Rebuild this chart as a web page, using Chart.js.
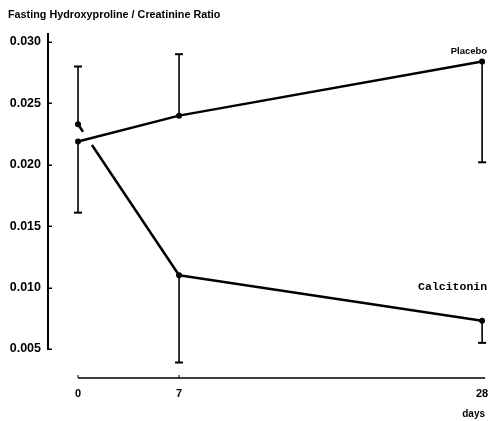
<!DOCTYPE html>
<html>
<head>
<meta charset="utf-8">
<script src="https://cdn.jsdelivr.net/npm/chart.js@4/dist/chart.umd.min.js"></script>
<style>
  html, body { margin: 0; padding: 0; background: #fff; }
  canvas { display: block; }
</style>
</head>
<body>
<canvas id="c" width="489" height="421"></canvas>
<script>
// ---- data ----
const days = [0, 7, 28];
const yTicks = [0.005, 0.010, 0.015, 0.020, 0.025, 0.030];
const placebo = [0.0219, 0.0240, 0.0284];
const calcitonin = [0.0233, 0.0110, 0.0073];
// error bar end values (one-sided bars as drawn)
const placeboErrEnd = [0.0161, 0.0290, 0.0202];
const calcitoninErrEnd = [0.0280, 0.0039, 0.0055];
const titleText = 'Fasting Hydroxyproline / Creatinine Ratio';
const xTitle = 'days';
const seriesNames = ['Placebo', 'Calcitonin'];

const SANS = '"Liberation Sans", Arial, Helvetica, sans-serif';
const MONO = '"Liberation Mono", "Courier New", monospace';

const toXY = (vals) => days.map((d, i) => ({ x: d, y: vals[i] }));

const decor = {
  id: 'decor',
  beforeDatasetsDraw(chart) {
    const { ctx, chartArea } = chart;
    const xs = chart.scales.x, ys = chart.scales.y;
    ctx.save();
    ctx.strokeStyle = '#000';
    ctx.lineCap = 'butt';
    // y axis line
    const yBot = ys.getPixelForValue(yTicks[0]);
    ctx.lineWidth = 2;
    ctx.beginPath();
    ctx.moveTo(chartArea.left + 1, chartArea.top);
    ctx.lineTo(chartArea.left + 1, yBot + 1);
    ctx.stroke();
    // y tick marks (inward)
    ctx.lineWidth = 1.5;
    yTicks.forEach(t => {
      const py = Math.round(ys.getPixelForValue(t)) + 0.25;
      ctx.beginPath();
      ctx.moveTo(chartArea.left + 1, py);
      ctx.lineTo(chartArea.left + 5, py);
      ctx.stroke();
    });
    // x axis line
    const x0 = xs.getPixelForValue(days[0]);
    const x1 = xs.getPixelForValue(days[days.length - 1]);
    ctx.lineWidth = 1.5;
    ctx.beginPath();
    ctx.moveTo(x0, chartArea.bottom);
    ctx.lineTo(x1 + 3, chartArea.bottom);
    ctx.stroke();
    ctx.lineWidth = 1;
    days.slice(0, 2).forEach(d => {
      const px = xs.getPixelForValue(d);
      ctx.beginPath();
      ctx.moveTo(px, chartArea.bottom);
      ctx.lineTo(px, chartArea.bottom - 3);
      ctx.stroke();
    });
    // error bars
    const drawErr = (vals, ends) => {
      days.forEach((d, i) => {
        if (ends[i] == null) return;
        const px = xs.getPixelForValue(d);
        const p0 = ys.getPixelForValue(vals[i]);
        const p1 = ys.getPixelForValue(ends[i]);
        ctx.lineWidth = 1.6;
        ctx.beginPath();
        ctx.moveTo(px, p0);
        ctx.lineTo(px, p1);
        ctx.stroke();
        ctx.lineWidth = 2;
        ctx.beginPath();
        ctx.moveTo(px - 4, p1);
        ctx.lineTo(px + 4, p1);
        ctx.stroke();
      });
    };
    drawErr(placebo, placeboErrEnd);
    drawErr(calcitonin, calcitoninErrEnd);
    ctx.restore();
  },
  afterDatasetsDraw(chart) {
    const { ctx } = chart;
    const xs = chart.scales.x, ys = chart.scales.y;
    const last = days.length - 1;
    ctx.save();
    ctx.fillStyle = '#000';
    ctx.textAlign = 'right';
    ctx.textBaseline = 'middle';
    ctx.font = 'bold 9.5px ' + SANS;
    ctx.fillText(seriesNames[0], xs.getPixelForValue(days[last]) + 5, ys.getPixelForValue(placebo[last]) - 10);
    ctx.font = 'bold 11.5px ' + MONO;
    ctx.fillText(seriesNames[1], xs.getPixelForValue(days[last]) + 5, ys.getPixelForValue(calcitonin[last]) - 34);
    ctx.restore();
  }
};

new Chart(document.getElementById('c'), {
  type: 'line',
  data: {
    datasets: [
      {
        label: seriesNames[1],
        data: toXY(calcitonin),
        borderColor: '#000',
        backgroundColor: '#000',
        borderWidth: 2.5,
        pointRadius: 3,
        pointBorderWidth: 0,
        tension: 0,
        segment: {
          borderDash: (c) => c.p0DataIndex === 0 ? [9, 16, 400] : undefined
        }
      },
      {
        label: seriesNames[0],
        data: toXY(placebo),
        borderColor: '#000',
        backgroundColor: '#000',
        borderWidth: 2.5,
        pointRadius: 3,
        pointBorderWidth: 0,
        tension: 0
      }
    ]
  },
  options: {
    responsive: false,
    animation: false,
    layout: { padding: { left: 8, right: 0, top: 0, bottom: 0 } },
    plugins: {
      legend: { display: false },
      tooltip: { enabled: false },
      title: {
        display: true,
        text: titleText,
        align: 'start',
        color: '#000',
        font: { family: SANS, size: 10.8, weight: 'bold' },
        padding: { top: 9, bottom: 11 }
      }
    },
    scales: {
      x: {
        type: 'linear',
        min: -2.15,
        max: 28.2,
        grid: { display: false, drawTicks: false },
        border: { display: false },
        afterBuildTicks: (s) => { s.ticks = days.map(v => ({ value: v })); },
        afterFit: (s) => { s.height = 43; s.paddingLeft = 0; s.paddingRight = 0; },
        ticks: {
          color: '#000',
          padding: 9,
          font: { family: SANS, size: 11, weight: 'bold' },
          callback: (v) => String(v),
          maxRotation: 0
        },
        title: {
          display: true,
          text: xTitle,
          align: 'end',
          color: '#000',
          font: { family: SANS, size: 10, weight: 'bold' },
          padding: { top: 0, bottom: 1 }
        }
      },
      y: {
        type: 'linear',
        min: 0.00264,
        max: 0.03073,
        grid: { display: false, drawTicks: false },
        border: { display: false },
        afterBuildTicks: (s) => { s.ticks = yTicks.map(v => ({ value: v })); },
        afterFit: (s) => { s.width = 39; s.paddingTop = 0; s.paddingBottom = 0; },
        ticks: {
          color: '#000',
          padding: 6,
          font: { family: SANS, size: 12.5, weight: 'bold' },
          callback: (v) => Number(v).toFixed(3)
        }
      }
    }
  },
  plugins: [decor]
});
</script>
</body>
</html>
